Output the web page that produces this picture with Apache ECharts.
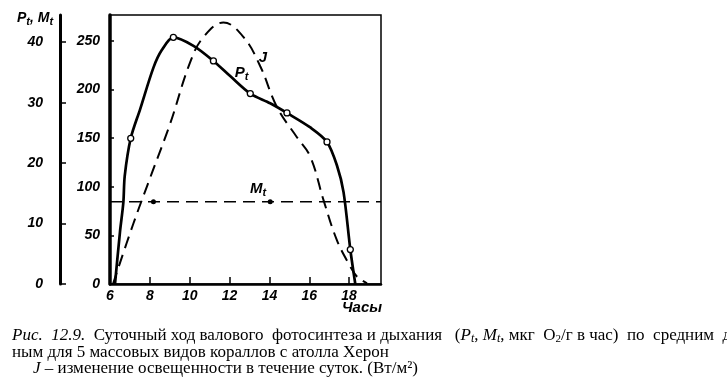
<!DOCTYPE html>
<html><head><meta charset="utf-8">
<script src="https://cdn.jsdelivr.net/npm/echarts@6/dist/echarts.min.js"></script>
<style>html,body{margin:0;padding:0;background:#fff}#c{width:727px;height:381px}</style>
</head><body><div id="c"></div>
<script>
// ---- data ----
const xTicks = [6, 8, 10, 12, 14, 16, 18];
const ptTicks = [0, 10, 20, 30, 40];
const jTicks = [0, 50, 100, 150, 200, 250];

// Pt – gross photosynthesis (мкг O2/г в час)
const ptHours  = [6.25, 6.5, 6.67, 6.74, 7.04, 7.51, 8.18, 8.6, 9.18, 10.19, 11.19, 12.03, 13.04, 14.04, 14.88, 16.05, 16.89, 17.39, 17.72, 18.06, 18.31];
const ptValues = [0, 8.6, 13.5, 17.9, 24.1, 28.9, 35.8, 38.7, 40.8, 39.4, 36.9, 34.4, 31.5, 29.9, 28.3, 25.9, 23.5, 19.6, 15.2, 5.7, 0];
const ptMarked = [7.04, 9.18, 11.19, 13.04, 14.88, 16.89, 18.06];

// J – irradiance (Вт/м2)
const jHours  = [6.15, 7.17, 8.1, 9.02, 10.02, 10.69, 11.69, 12.7, 13.54, 14.38, 15.38, 16.05, 16.72, 17.39, 18.06, 18.4, 18.9];
const jValues = [0, 62, 114, 165, 228, 254, 269, 254, 224, 182, 151, 131, 86, 45, 18, 7.5, 0.7];

// Mt – respiration
const mtHours = [6, 8.18, 14.04, 19.6];
const mtValues = [13.6, 13.6, 13.6, 13.6];
const mtMarked = [8.18, 14.04];

const X_MIN = 6, X_MAX = 19.6, PT_MAX = 44.5, J_MAX = 276.7;

const chart = echarts.init(document.getElementById('c'), null, {renderer: 'canvas'});
const tickFont = {fontFamily: 'Liberation Sans', fontStyle: 'italic', fontWeight: 'bold', fontSize: 14, color: '#000'};
const sub = {fontFamily: 'Liberation Sans', fontStyle: 'italic', fontWeight: 'bold', fontSize: 11, lineHeight: 11, verticalAlign: 'bottom', color: '#000', fill: '#000'};
const big = {fontFamily: 'Liberation Sans', fontStyle: 'italic', fontWeight: 'bold', fontSize: 15, lineHeight: 18, color: '#000', fill: '#000'};
const serif = 'Liberation Serif';
const CAP = 17;
const capRich = {
  n: {fontFamily: serif, fontSize: CAP, lineHeight: 18, fill: '#000', color: '#000'},
  i: {fontFamily: serif, fontStyle: 'italic', fontSize: CAP, lineHeight: 18, fill: '#000', color: '#000'},
  s: {fontFamily: serif, fontStyle: 'italic', fontSize: 12, lineHeight: 12, verticalAlign: 'bottom', fill: '#000', color: '#000'},
  s2: {fontFamily: serif, fontSize: 11, lineHeight: 12, verticalAlign: 'bottom', fill: '#000', color: '#000'}
};

function labelPoint(coord, text) {
  return {coord: coord, symbol: 'circle', symbolSize: 1, itemStyle: {color: 'rgba(0,0,0,0)'},
    label: {show: true, position: 'inside', formatter: text, rich: {a: big, b: sub}}};
}
function cap(left, top, text) {
  return {type: 'text', left: left, top: top, style: {text: text, rich: capRich}};
}

chart.setOption({
  animation: false,
  backgroundColor: '#fff',
  grid: {left: 110, top: 15, width: 271, height: 269, show: true, borderColor: '#000', borderWidth: 1.5, backgroundColor: 'transparent'},
  xAxis: {
    type: 'value', min: X_MIN, max: X_MAX, interval: 2,
    axisLine: {lineStyle: {color: '#000', width: 2.5}},
    axisTick: {inside: true, length: 7, lineStyle: {color: '#000', width: 1.5}, customValues: xTicks},
    axisLabel: Object.assign({margin: 5, customValues: xTicks}, tickFont),
    splitLine: {show: false}
  },
  yAxis: [
    {
      type: 'value', min: 0, max: J_MAX, position: 'left', offset: 0,
      axisLine: {show: true, lineStyle: {color: '#000', width: 3.5}},
      axisTick: {show: true, inside: true, length: 4, lineStyle: {color: '#000', width: 1.5}, customValues: jTicks},
      axisLabel: Object.assign({margin: 10, customValues: jTicks}, tickFont),
      splitLine: {show: false}
    },
    {
      type: 'value', min: 0, max: PT_MAX, position: 'left', offset: 50,
      axisLine: {show: true, lineStyle: {color: '#000', width: 3}},
      axisTick: {show: true, inside: true, length: 6, lineStyle: {color: '#000', width: 1.5}, customValues: ptTicks},
      axisLabel: Object.assign({margin: 17, customValues: ptTicks}, tickFont),
      splitLine: {show: false}
    }
  ],
  series: [
    {
      name: 'J', type: 'line', yAxisIndex: 0, smooth: 0.4, symbol: 'none',
      lineStyle: {color: '#000', width: 2, type: [12, 7]},
      data: jHours.map((h, i) => [h, jValues[i]]),
      markPoint: {data: [labelPoint([13.68, 233], '{a|J}')]}
    },
    {
      name: 'Pt', type: 'line', yAxisIndex: 1, smooth: 0.3, showSymbol: true, symbol: 'none',
      lineStyle: {color: '#000', width: 2.7},
      itemStyle: {color: '#fff', borderColor: '#000', borderWidth: 1.3},
      data: ptHours.map((h, i) => ptMarked.includes(h)
        ? {value: [h, ptValues[i]], symbol: 'circle', symbolSize: 6}
        : {value: [h, ptValues[i]], symbol: 'none'}),
      markPoint: {data: [labelPoint([12.6, 34.9], '{a|P}{b|t}')]}
    },
    {
      name: 'Mt', type: 'line', yAxisIndex: 1, showSymbol: true, symbol: 'none',
      lineStyle: {color: '#000', width: 1.5, type: [12, 7]},
      itemStyle: {color: '#000'},
      data: mtHours.map((h, i) => mtMarked.includes(h)
        ? {value: [h, mtValues[i]], symbol: 'circle', symbolSize: 5}
        : {value: [h, mtValues[i]], symbol: 'none'}),
      markPoint: {data: [labelPoint([13.43, 15.7], '{a|M}{b|t}')]}
    }
  ],
  graphic: [
    {type: 'text', left: 17, top: 11, style: {text: '{a|P}{b|t}{a|, M}{b|t}', rich: {a: Object.assign({}, big, {fontSize: 14}), b: sub}}},
    {type: 'text', left: 342, top: 300, style: {text: 'Часы', font: 'italic bold 15px "Liberation Sans"', fill: '#000'}},
    cap(12, 327, '{i|Рис.  12.9.}{n|  Суточный ход валового  фотосинтеза и дыхания   (}{i|P}{s|t}{n|, }{i|M}{s|t}{n|, мкг  O}{s2|2}{n|/г в час)  по  средним  д}'),
    cap(12, 344, '{n|ным для 5 массовых видов кораллов с атолла Херон}'),
    cap(33, 360, '{i|J}{n| – изменение освещенности в течение суток. (Вт/м²)}')
  ]
});
</script></body></html>
